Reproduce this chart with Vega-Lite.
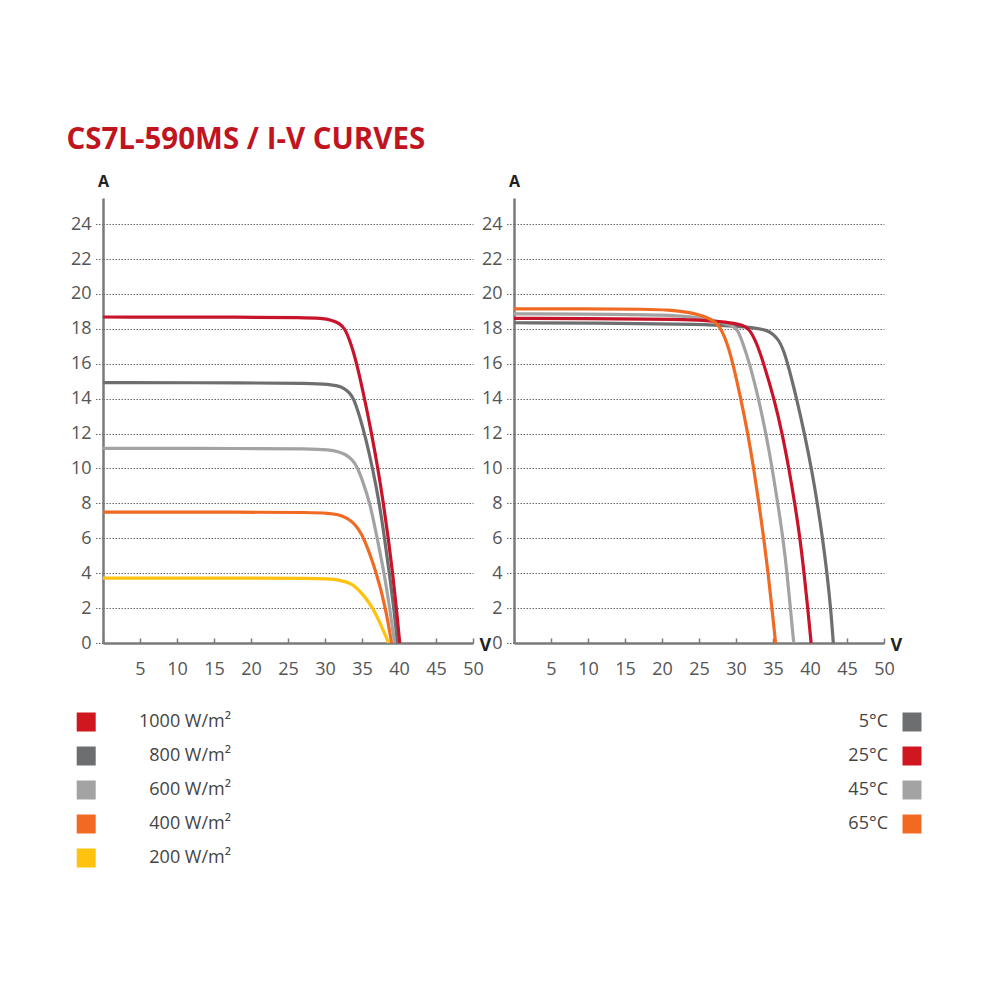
{
  "$schema": "https://vega.github.io/schema/vega-lite/v6.json",
  "background": "white",
  "padding": {"left": 66, "top": 124, "right": 5, "bottom": 5},
  "title": {"text": "CS7L-590MS / I-V CURVES", "anchor": "start", "font": "Open Sans", "fontSize": 29.5, "fontWeight": "bold", "color": "#c0141e", "offset": 18, "dx": -4},
  "config": {"view": {"stroke": null}, "font": "Open Sans"},
  "datasets": {
    "irr": [
      {"g": "200 W/m²", "v": 0, "i": 3.72}, {"g": "200 W/m²", "v": 20, "i": 3.72}, {"g": "200 W/m²", "v": 28, "i": 3.71}, {"g": "200 W/m²", "v": 30.5, "i": 3.68}, {"g": "200 W/m²", "v": 32, "i": 3.6}, {"g": "200 W/m²", "v": 33.3, "i": 3.45}, {"g": "200 W/m²", "v": 34.2, "i": 3.2}, {"g": "200 W/m²", "v": 35.2, "i": 2.75}, {"g": "200 W/m²", "v": 36.5, "i": 2.0}, {"g": "200 W/m²", "v": 37.6, "i": 1.0}, {"g": "200 W/m²", "v": 38.6, "i": 0},
      {"g": "400 W/m²", "v": 0, "i": 7.5}, {"g": "400 W/m²", "v": 20, "i": 7.5}, {"g": "400 W/m²", "v": 28, "i": 7.48}, {"g": "400 W/m²", "v": 30.5, "i": 7.44}, {"g": "400 W/m²", "v": 31.8, "i": 7.36}, {"g": "400 W/m²", "v": 32.8, "i": 7.2}, {"g": "400 W/m²", "v": 33.7, "i": 6.95}, {"g": "400 W/m²", "v": 34.5, "i": 6.55}, {"g": "400 W/m²", "v": 35.3, "i": 6.0}, {"g": "400 W/m²", "v": 37.0, "i": 4.0}, {"g": "400 W/m²", "v": 38.2, "i": 2.0}, {"g": "400 W/m²", "v": 39.0, "i": 0},
      {"g": "600 W/m²", "v": 0, "i": 11.15}, {"g": "600 W/m²", "v": 20, "i": 11.15}, {"g": "600 W/m²", "v": 28, "i": 11.13}, {"g": "600 W/m²", "v": 30.5, "i": 11.07}, {"g": "600 W/m²", "v": 31.8, "i": 10.97}, {"g": "600 W/m²", "v": 32.8, "i": 10.8}, {"g": "600 W/m²", "v": 33.6, "i": 10.55}, {"g": "600 W/m²", "v": 34.3, "i": 10.15}, {"g": "600 W/m²", "v": 35.0, "i": 9.4}, {"g": "600 W/m²", "v": 36.1, "i": 8.0}, {"g": "600 W/m²", "v": 37.05, "i": 6.0}, {"g": "600 W/m²", "v": 38.0, "i": 4.0}, {"g": "600 W/m²", "v": 38.75, "i": 2.0}, {"g": "600 W/m²", "v": 39.4, "i": 0},
      {"g": "800 W/m²", "v": 0, "i": 14.92}, {"g": "800 W/m²", "v": 20, "i": 14.91}, {"g": "800 W/m²", "v": 28, "i": 14.88}, {"g": "800 W/m²", "v": 30.5, "i": 14.83}, {"g": "800 W/m²", "v": 31.7, "i": 14.74}, {"g": "800 W/m²", "v": 32.6, "i": 14.6}, {"g": "800 W/m²", "v": 33.3, "i": 14.35}, {"g": "800 W/m²", "v": 33.9, "i": 14.0}, {"g": "800 W/m²", "v": 34.6, "i": 13.1}, {"g": "800 W/m²", "v": 35.35, "i": 12.0}, {"g": "800 W/m²", "v": 36.45, "i": 10.0}, {"g": "800 W/m²", "v": 37.35, "i": 8.0}, {"g": "800 W/m²", "v": 38.05, "i": 6.0}, {"g": "800 W/m²", "v": 38.7, "i": 4.0}, {"g": "800 W/m²", "v": 39.3, "i": 2.0}, {"g": "800 W/m²", "v": 39.8, "i": 0},
      {"g": "1000 W/m²", "v": 0, "i": 18.68}, {"g": "1000 W/m²", "v": 20, "i": 18.67}, {"g": "1000 W/m²", "v": 27, "i": 18.65}, {"g": "1000 W/m²", "v": 29.5, "i": 18.61}, {"g": "1000 W/m²", "v": 31.0, "i": 18.5}, {"g": "1000 W/m²", "v": 32.0, "i": 18.3}, {"g": "1000 W/m²", "v": 32.7, "i": 18.0}, {"g": "1000 W/m²", "v": 33.3, "i": 17.4}, {"g": "1000 W/m²", "v": 33.9, "i": 16.6}, {"g": "1000 W/m²", "v": 34.4, "i": 15.8}, {"g": "1000 W/m²", "v": 35.35, "i": 14.0}, {"g": "1000 W/m²", "v": 36.3, "i": 12.0}, {"g": "1000 W/m²", "v": 37.15, "i": 10.0}, {"g": "1000 W/m²", "v": 37.9, "i": 8.0}, {"g": "1000 W/m²", "v": 38.55, "i": 6.0}, {"g": "1000 W/m²", "v": 39.15, "i": 4.0}, {"g": "1000 W/m²", "v": 39.65, "i": 2.0}, {"g": "1000 W/m²", "v": 40.1, "i": 0}
    ],
    "temp": [
      {"t": "5°C", "v": 0, "i": 18.35}, {"t": "5°C", "v": 15, "i": 18.32}, {"t": "5°C", "v": 25, "i": 18.26}, {"t": "5°C", "v": 30, "i": 18.16}, {"t": "5°C", "v": 32.5, "i": 18.06}, {"t": "5°C", "v": 34, "i": 17.95}, {"t": "5°C", "v": 35, "i": 17.72}, {"t": "5°C", "v": 35.8, "i": 17.35}, {"t": "5°C", "v": 36.4, "i": 16.8}, {"t": "5°C", "v": 37.0, "i": 16.0}, {"t": "5°C", "v": 38.2, "i": 14.0}, {"t": "5°C", "v": 39.25, "i": 12.0}, {"t": "5°C", "v": 40.2, "i": 10.0}, {"t": "5°C", "v": 41.0, "i": 8.0}, {"t": "5°C", "v": 41.7, "i": 6.0}, {"t": "5°C", "v": 42.3, "i": 4.0}, {"t": "5°C", "v": 42.8, "i": 2.0}, {"t": "5°C", "v": 43.15, "i": 0},
      {"t": "45°C", "v": 0, "i": 18.86}, {"t": "45°C", "v": 15, "i": 18.84}, {"t": "45°C", "v": 20, "i": 18.8}, {"t": "45°C", "v": 24, "i": 18.7}, {"t": "45°C", "v": 27, "i": 18.5}, {"t": "45°C", "v": 29.5, "i": 18.18}, {"t": "45°C", "v": 30.2, "i": 18.0}, {"t": "45°C", "v": 31.0, "i": 17.1}, {"t": "45°C", "v": 31.85, "i": 16.0}, {"t": "45°C", "v": 33.05, "i": 14.0}, {"t": "45°C", "v": 34.05, "i": 12.0}, {"t": "45°C", "v": 34.9, "i": 10.0}, {"t": "45°C", "v": 35.65, "i": 8.0}, {"t": "45°C", "v": 36.35, "i": 6.0}, {"t": "45°C", "v": 36.9, "i": 4.0}, {"t": "45°C", "v": 37.35, "i": 2.0}, {"t": "45°C", "v": 37.8, "i": 0},
      {"t": "25°C", "v": 0, "i": 18.6}, {"t": "25°C", "v": 15, "i": 18.58}, {"t": "25°C", "v": 22, "i": 18.55}, {"t": "25°C", "v": 26, "i": 18.48}, {"t": "25°C", "v": 29.5, "i": 18.35}, {"t": "25°C", "v": 31, "i": 18.2}, {"t": "25°C", "v": 31.8, "i": 18.0}, {"t": "25°C", "v": 32.8, "i": 17.2}, {"t": "25°C", "v": 33.75, "i": 16.0}, {"t": "25°C", "v": 35.15, "i": 14.0}, {"t": "25°C", "v": 36.25, "i": 12.0}, {"t": "25°C", "v": 37.15, "i": 10.0}, {"t": "25°C", "v": 37.95, "i": 8.0}, {"t": "25°C", "v": 38.65, "i": 6.0}, {"t": "25°C", "v": 39.2, "i": 4.0}, {"t": "25°C", "v": 39.7, "i": 2.0}, {"t": "25°C", "v": 40.15, "i": 0},
      {"t": "65°C", "v": 0, "i": 19.15}, {"t": "65°C", "v": 10, "i": 19.15}, {"t": "65°C", "v": 18, "i": 19.13}, {"t": "65°C", "v": 21, "i": 19.08}, {"t": "65°C", "v": 23, "i": 18.98}, {"t": "65°C", "v": 25, "i": 18.82}, {"t": "65°C", "v": 26.5, "i": 18.58}, {"t": "65°C", "v": 27.3, "i": 18.36}, {"t": "65°C", "v": 28, "i": 18.0}, {"t": "65°C", "v": 28.8, "i": 17.2}, {"t": "65°C", "v": 29.6, "i": 16.0}, {"t": "65°C", "v": 30.65, "i": 14.0}, {"t": "65°C", "v": 31.6, "i": 12.0}, {"t": "65°C", "v": 32.4, "i": 10.0}, {"t": "65°C", "v": 33.1, "i": 8.0}, {"t": "65°C", "v": 33.75, "i": 6.0}, {"t": "65°C", "v": 34.35, "i": 4.0}, {"t": "65°C", "v": 34.85, "i": 2.0}, {"t": "65°C", "v": 35.35, "i": 0}
    ],
    "irrLegend": [{"g": "1000 W/m²"}, {"g": "800 W/m²"}, {"g": "600 W/m²"}, {"g": "400 W/m²"}, {"g": "200 W/m²"}],
    "tempLegend": [{"t": "5°C"}, {"t": "25°C"}, {"t": "45°C"}, {"t": "65°C"}]
  },
  "concat": [
    {
      "width": 370, "height": 445,
      "data": {"name": "irr"},
      "mark": {"type": "line", "strokeWidth": 3.2, "interpolate": "basis"},
      "encoding": {
        "x": {"field": "v", "type": "quantitative", "scale": {"domain": [0, 50], "nice": false},
          "axis": {"values": [0, 5, 10, 15, 20, 25, 30, 35, 40, 45, 50], "labelExpr": "datum.value == 0 ? '' : datum.label", "grid": false, "domainColor": "#7a7a7a", "domainWidth": 2.5, "tickColor": "#7a7a7a", "tickSize": -5, "tickWidth": 1.5, "labelFontSize": 18, "labelColor": "#555555", "labelPadding": 22, "labelFlush": false, "title": "V", "titleX": 376, "titleY": 2, "titleAlign": "left", "titleBaseline": "middle", "titleFontSize": 18, "titleFontWeight": "bold", "titleColor": "#222222"}},
        "y": {"field": "i", "type": "quantitative", "scale": {"domain": [0, 25.5], "nice": false},
          "axis": {"values": [0, 2, 4, 6, 8, 10, 12, 14, 16, 18, 20, 22, 24], "grid": true, "gridDash": [1.5, 1.5], "gridColor": "#666666", "gridWidth": 1, "tickSize": 9, "tickDash": [1.5, 1.5], "tickColor": "#666666", "domainColor": "#7a7a7a", "domainWidth": 2.5, "labelFontSize": 18, "labelPadding": 3, "labelColor": "#555555", "title": "A", "titleAngle": 0, "titleX": 0, "titleY": -17, "titleAlign": "center", "titleBaseline": "middle", "titleFontSize": 16, "titleFontWeight": "bold", "titleColor": "#222222"}},
        "color": {"field": "g", "type": "nominal", "scale": {"domain": ["1000 W/m²", "800 W/m²", "600 W/m²", "400 W/m²", "200 W/m²"], "range": ["#c8142a", "#6d6e70", "#a3a3a3", "#f06a24", "#ffc20e"]}, "legend": null}
      }
    },
    {
      "width": 370, "height": 445,
      "data": {"name": "temp"},
      "mark": {"type": "line", "strokeWidth": 3.2, "interpolate": "basis"},
      "encoding": {
        "x": {"field": "v", "type": "quantitative", "scale": {"domain": [0, 50], "nice": false},
          "axis": {"values": [0, 5, 10, 15, 20, 25, 30, 35, 40, 45, 50], "labelExpr": "datum.value == 0 ? '' : datum.label", "grid": false, "domainColor": "#7a7a7a", "domainWidth": 2.5, "tickColor": "#7a7a7a", "tickSize": -5, "tickWidth": 1.5, "labelFontSize": 18, "labelColor": "#555555", "labelPadding": 22, "labelFlush": false, "title": "V", "titleX": 376, "titleY": 2, "titleAlign": "left", "titleBaseline": "middle", "titleFontSize": 18, "titleFontWeight": "bold", "titleColor": "#222222"}},
        "y": {"field": "i", "type": "quantitative", "scale": {"domain": [0, 25.5], "nice": false},
          "axis": {"values": [0, 2, 4, 6, 8, 10, 12, 14, 16, 18, 20, 22, 24], "grid": true, "gridDash": [1.5, 1.5], "gridColor": "#666666", "gridWidth": 1, "tickSize": 9, "tickDash": [1.5, 1.5], "tickColor": "#666666", "domainColor": "#7a7a7a", "domainWidth": 2.5, "labelFontSize": 18, "labelPadding": 3, "labelColor": "#555555", "title": "A", "titleAngle": 0, "titleX": 0, "titleY": -17, "titleAlign": "center", "titleBaseline": "middle", "titleFontSize": 16, "titleFontWeight": "bold", "titleColor": "#222222"}},
        "color": {"field": "t", "type": "nominal", "scale": {"domain": ["5°C", "25°C", "45°C", "65°C"], "range": ["#6d6e70", "#c8142a", "#a3a3a3", "#f06a24"]}, "legend": null}
      }
    },
    {
      "width": 10, "height": 136,
      "data": {"name": "irrLegend"},
      "encoding": {"y": {"field": "g", "type": "nominal", "sort": null, "scale": {"type": "point", "padding": 0}, "axis": null}},
      "layer": [
        {"mark": {"type": "square", "size": 361, "filled": true, "opacity": 1, "xOffset": -21.8},
         "encoding": {"color": {"field": "g", "type": "nominal", "scale": {"domain": ["1000 W/m²", "800 W/m²", "600 W/m²", "400 W/m²", "200 W/m²"], "range": ["#d0161e", "#6d6e70", "#a3a3a3", "#f26a21", "#ffc20e"]}, "legend": null}}},
        {"mark": {"type": "text", "align": "right", "baseline": "middle", "dx": 123, "fontSize": 18, "color": "#444444"},
         "encoding": {"text": {"field": "g"}}}
      ]
    },
    {
      "width": 10, "height": 102,
      "data": {"name": "tempLegend"},
      "encoding": {"y": {"field": "t", "type": "nominal", "sort": null, "scale": {"type": "point", "padding": 0}, "axis": null}},
      "layer": [
        {"mark": {"type": "square", "size": 361, "filled": true, "opacity": 1, "xOffset": 393},
         "encoding": {"color": {"field": "t", "type": "nominal", "scale": {"domain": ["5°C", "25°C", "45°C", "65°C"], "range": ["#6d6e70", "#d0161e", "#a3a3a3", "#f26a21"]}, "legend": null}}},
        {"mark": {"type": "text", "align": "right", "baseline": "middle", "xOffset": 393, "dx": -24, "fontSize": 18, "color": "#444444"},
         "encoding": {"text": {"field": "t"}}}
      ]
    }
  ],
  "columns": 2,
  "spacing": {"row": 79, "column": 41},
  "bounds": "flush",
  "resolve": {"scale": {"color": "independent"}}
}
